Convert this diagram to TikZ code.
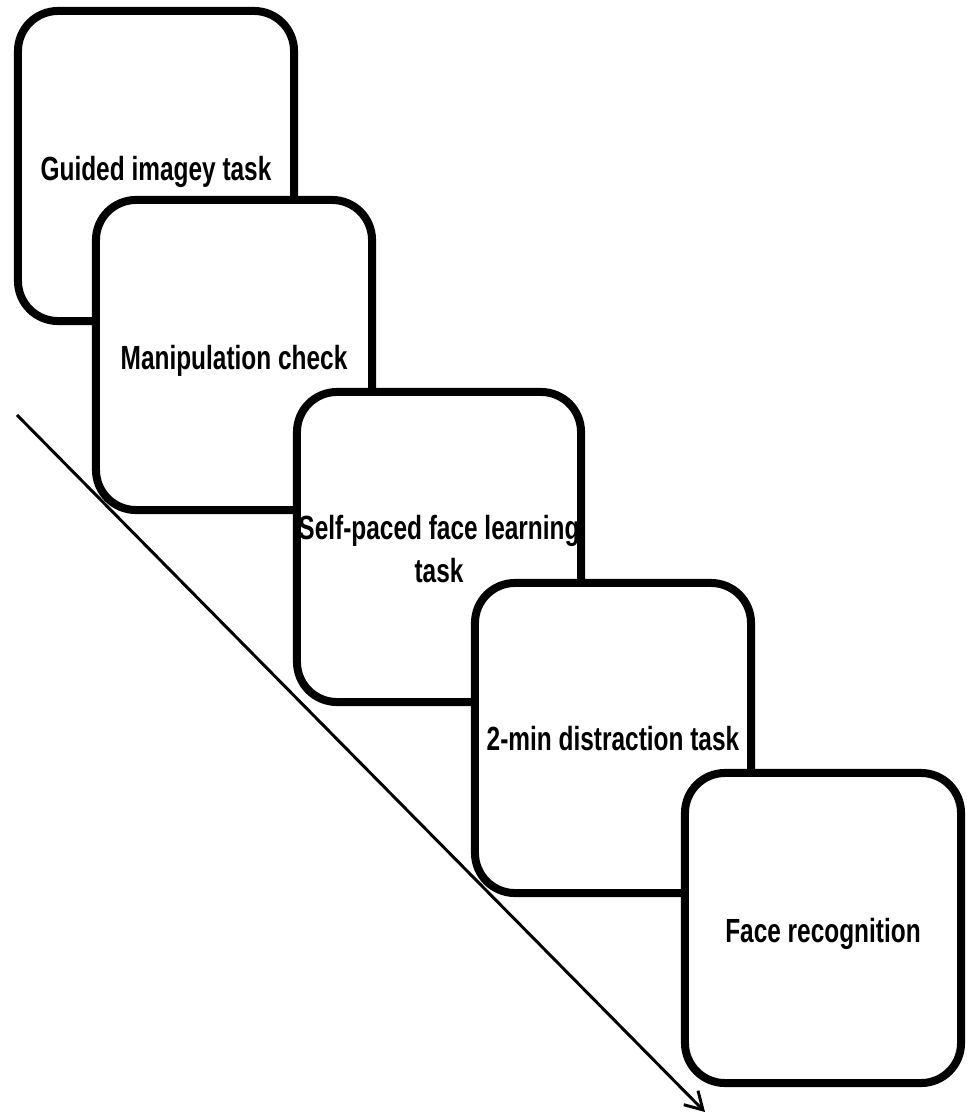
\documentclass[tikz,border=0pt]{standalone}
\usepackage{fontspec}
\setmainfont{Liberation Sans}
\newfontfamily\stagefont[FakeStretch=0.73]{Liberation Sans}
\usetikzlibrary{arrows.meta, positioning}
\def\boxw{6.9cm}
\def\boxh{7.75cm}

\begin{document}
\begin{tikzpicture}[x=0.025cm, y=-0.025cm]
    \tikzstyle{stage}=[rectangle, rounded corners=1cm, draw=black, line width=5.7pt, fill=white, minimum width=\boxw, minimum height=\boxh, inner sep=0pt, align=center, text height=26pt, text depth=5pt, font=\stagefont\bfseries\fontsize{23.8}{30.6}\selectfont]
    \tikzstyle{timeline}=[-{Straight Barb[length=0.43cm, width=0.5cm]}, line width=2.1pt, draw=black]

    \useasboundingbox (0,0) rectangle (967,1116);

    % Draw the stages, each one on top of the one before
    \node[stage] (guided) at (156,166) {Guided imagey task};
    \node[stage] (check) at (234,355) {Manipulation check};
    \node[stage, minimum width=7.1cm, text height=55pt] (learn) at (439,547) {Self-paced face learning\\task};
    \node[stage, text height=23pt] (distract) at (613,738) {2-min distraction task};
    \node[stage] (recog) at (823,928) {Face recognition};

    % Time runs down to the right
    \coordinate (t-start) at (17,415);
    \coordinate (t-end) at (705,1112);
    \draw[timeline] (t-start) -- (t-end);
\end{tikzpicture}
\end{document}
